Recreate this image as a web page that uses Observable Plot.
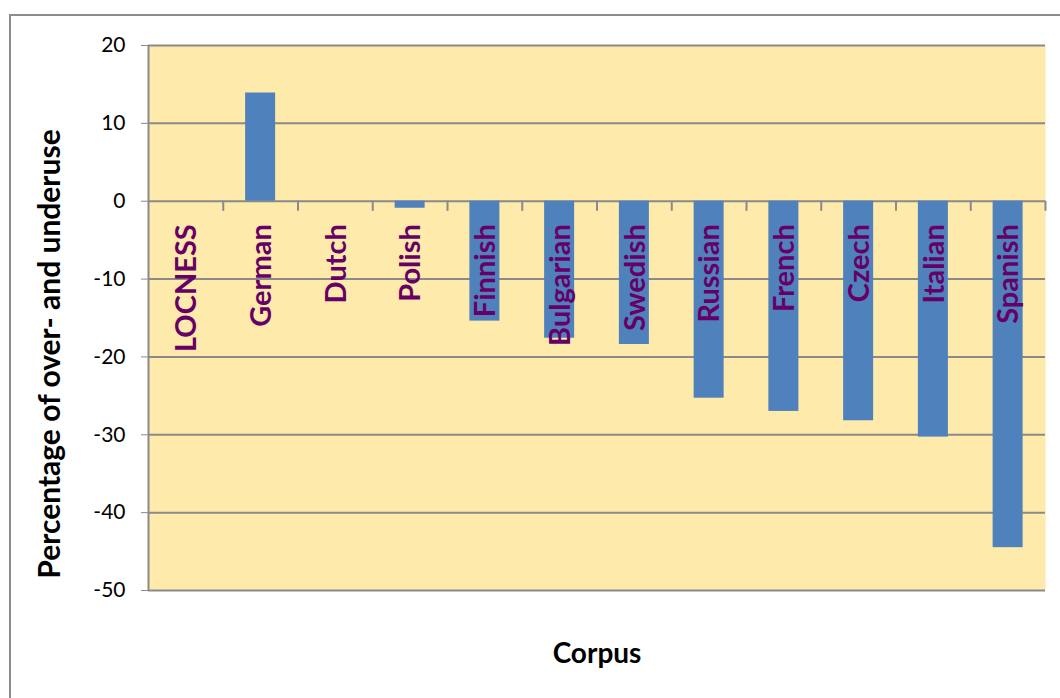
<!DOCTYPE html>
<html><head><meta charset="utf-8">
<script src="https://cdn.jsdelivr.net/npm/d3@7"></script>
<script src="https://cdn.jsdelivr.net/npm/@observablehq/plot@0.6"></script>
<style>
html,body{margin:0;padding:0;background:#fff;overflow:hidden;}
#wrap{position:relative;width:1060px;height:698px;overflow:hidden;}
#border{position:absolute;left:9px;top:14px;width:1100px;height:720px;border-top:2px solid #8c8c8c;border-left:2px solid #8c8c8c;}
#chart{position:absolute;left:0;top:0;}
</style></head><body>
<div id="wrap"><div id="border"></div><div id="chart"></div></div>
<script>
const corpora = ["LOCNESS","German","Dutch","Polish","Finnish","Bulgarian","Swedish","Russian","French","Czech","Italian","Spanish"];
const values = [0, 13.9, 0, -0.9, -15.4, -17.6, -18.4, -25.3, -27.0, -28.2, -30.3, -44.5];
const yTicks = [-50, -40, -30, -20, -10, 0, 10, 20];
const yTitle = "Percentage of over- and underuse";
const xTitle = "Corpus";

const data = corpora.map((c, i) => ({corpus: c, value: values[i]}));
const W = 1060, H = 698, mL = 148, mR = 15, mT = 45, mB = 108;
const step = (W - mL - mR) / corpora.length;
const barW = 30;
const inset = (step - barW) / 2;
const grid = "#8a8a8a";

const chart = Plot.plot({
  width: W, height: H,
  marginLeft: mL, marginRight: mR, marginTop: mT, marginBottom: mB,
  style: {fontFamily: "Lato, sans-serif", background: "transparent", overflow: "visible"},
  x: {domain: corpora, padding: 0, round: false, axis: null},
  y: {domain: [-50, 20], axis: null},
  marks: [
    Plot.frame({fill: "#FEEAAA", stroke: "none"}),
    Plot.ruleY(yTicks, {stroke: grid, strokeWidth: 2}),
    Plot.barY(data, {x: "corpus", y: "value", fill: "#4F81BD", insetLeft: inset, insetRight: inset}),
    Plot.ruleX(corpora, {x: d => d, y1: 0, y2: -1.3, dx: step / 2, stroke: grid, strokeWidth: 2}),
    Plot.ruleX([corpora[0]], {x: d => d, y1: -50, y2: 20, dx: -step / 2, stroke: grid, strokeWidth: 2}),
    Plot.axisY(yTicks, {tickSize: 7, tickPadding: 16, fontSize: 21, stroke: grid, fill: "#000", label: null, tickFormat: d => String(d)}),
    Plot.text(data, {x: "corpus", y: 0, text: "corpus", rotate: -90, textAnchor: "end", lineAnchor: "middle", dy: 23, dx: 1, fill: "#660066", fontSize: 29, fontWeight: "bold"}),
    Plot.text([yTitle], {text: d => d, frameAnchor: "left", textAnchor: "middle", dx: -98, dy: 36, rotate: -90, fontSize: 30, fontWeight: "bold", fill: "#000"}),
    Plot.text([xTitle], {text: d => d, frameAnchor: "bottom", textAnchor: "middle", dy: 72, fontSize: 28, fontWeight: "bold", fill: "#000"})
  ]
});
document.getElementById("chart").appendChild(chart);
</script>
</body></html>
